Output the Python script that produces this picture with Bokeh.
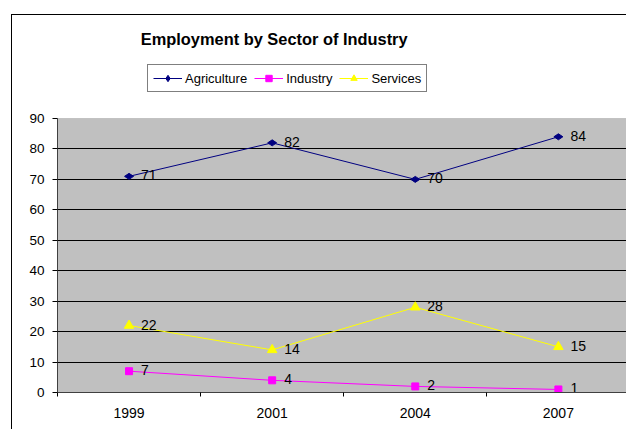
import math
from bokeh.plotting import figure
from bokeh.models import (FixedTicker, Legend, LegendItem, Label, BoxAnnotation,
                          ColumnDataSource, Range1d, InlineStyleSheet)
from bokeh.embed import file_html
from bokeh.resources import INLINE
from bokeh.core.properties import value

# ---- data ----
years = ["1999", "2001", "2004", "2007"]
agriculture = [71, 82, 70, 84]
industry = [7, 4, 2, 1]
services = [22, 14, 28, 15]
series_names = ["Agriculture", "Industry", "Services"]
y_ticks = [0, 10, 20, 30, 40, 50, 60, 70, 80, 90]
title_text = "Employment by Sector of Industry"

FONT = "Liberation Sans"
xs = list(range(len(years)))
y_max = y_ticks[-1]
# frame spans the whole chart area above the x axis; plot area is 0..90
y_top = y_max * 377 / 274

p = figure(width=615, height=415, output_backend="svg", toolbar_location=None,
           x_range=Range1d(-0.5, 3.483), y_range=Range1d(0, y_top),
           min_border_left=45, min_border_top=0, min_border_bottom=38,
           min_border_right=0,
           background_fill_color="white", border_fill_color="white",
           outline_line_color=None, margin=(14, 0, 0, 11))
p.stylesheets = [InlineStyleSheet(css=":host { border-left: 1px solid black !important; "
                                      "border-top: 1px solid black !important; }")]

# grey plot area
plot_area = BoxAnnotation(bottom=0, top=y_max, fill_color="#C0C0C0", fill_alpha=1,
                          line_color="#808080", line_width=1, level="image")
p.add_layout(plot_area)

# axes
p.xaxis.ticker = FixedTicker(ticks=xs, minor_ticks=[i - 0.5 for i in range(len(years) + 1)])
p.xaxis.major_label_overrides = {i: y for i, y in enumerate(years)}
p.xaxis.major_tick_line_color = None
p.xaxis.major_tick_out = 0
p.xaxis.major_tick_in = 0
p.xaxis.minor_tick_out = 4
p.xaxis.minor_tick_in = 0
p.xaxis.minor_tick_line_color = "black"
p.xaxis.major_label_standoff = 11
p.xaxis.major_label_text_font = FONT
p.xaxis.major_label_text_font_size = "14px"
p.xaxis.major_label_text_color = "black"
p.xaxis.axis_line_color = "#404040"

p.yaxis.ticker = FixedTicker(ticks=y_ticks)
p.yaxis.bounds = (0, y_max)
p.yaxis.major_tick_out = 5
p.yaxis.major_tick_in = 0
p.yaxis.minor_tick_line_color = None
p.yaxis.major_tick_line_color = "black"
p.yaxis.major_label_standoff = 8
p.yaxis.major_label_text_font = FONT
p.yaxis.major_label_text_font_size = "13.5px"
p.yaxis.major_label_text_color = "black"
p.yaxis.axis_line_color = "#404040"

p.xgrid.visible = False
p.ygrid.ticker = FixedTicker(ticks=y_ticks[1:-1])
p.ygrid.grid_line_color = "black"
p.ygrid.grid_line_width = 1

series = [
    (series_names[0], agriculture, "#000080", "diamond", 9, math.pi / 2),
    (series_names[1], industry, "#FF00FF", "square", 7, 0),
    (series_names[2], services, "#FFFF00", "triangle", 9.5, 0),
]
items = []
for name, vals, color, marker, size, ang in series:
    src = ColumnDataSource(dict(x=xs, y=vals, t=[str(v) for v in vals]))
    ln = p.line("x", "y", source=src, line_color=color, line_width=1)
    mk = p.scatter("x", "y", source=src, marker=marker, size=size, angle=ang,
                   fill_color=color, line_color=color)
    p.text("x", "y", text="t", source=src, x_offset=12, y_offset=-1,
           text_baseline="middle",
           text_align="left", text_font=value(FONT), text_font_size="14px",
           text_color="black")
    items.append(LegendItem(label=name, renderers=[ln, mk]))

legend = Legend(items=items, orientation="horizontal", location=(90, 300),
                label_text_font=FONT, label_text_font_size="13px",
                label_text_color="black",
                glyph_width=29, glyph_height=16, label_standoff=3, spacing=7,
                padding=5, margin=0,
                border_line_color="black", border_line_width=1,
                background_fill_color="white", background_fill_alpha=1)
p.add_layout(legend)

title = Label(x=1.014, y=y_max * 354 / 274, text=title_text, text_align="center",
              text_baseline="alphabetic", text_font=FONT,
              text_font_style="bold", text_font_size="16.4px", text_color="black")
p.add_layout(title)

open("out.html", "w").write(file_html(p, INLINE))
